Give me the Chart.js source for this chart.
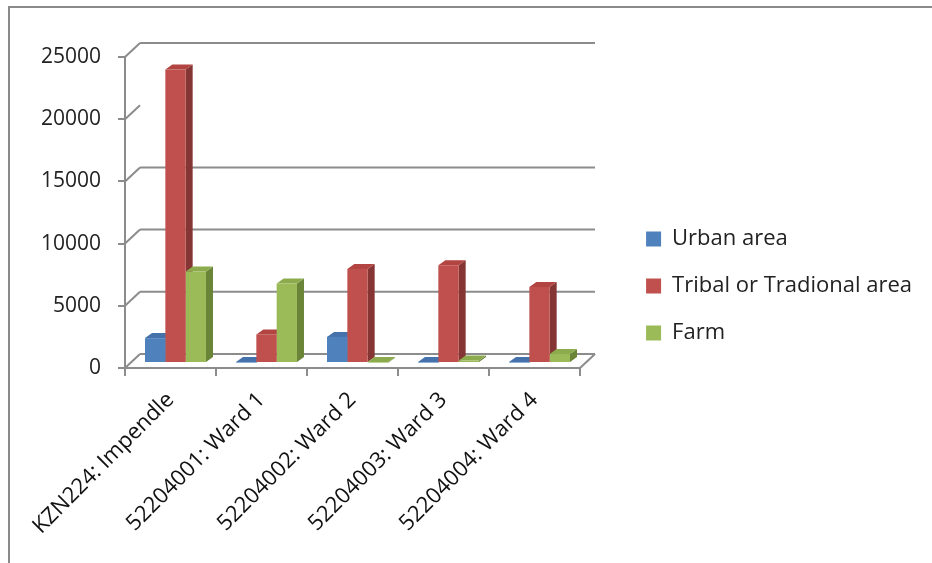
<!DOCTYPE html>
<html>
<head>
<meta charset="utf-8">
<title>Area type by ward</title>
<script src="https://cdn.jsdelivr.net/npm/chart.js@4.4.1/dist/chart.umd.min.js"></script>
<style>
  html, body { margin: 0; padding: 0; background: #fff; }
  canvas { display: block; }
</style>
</head>
<body>
<canvas id="chart" width="932" height="563"></canvas>
<script>
const wards = ["KZN224: Impendle", "52204001: Ward 1", "52204002: Ward 2", "52204003: Ward 3", "52204004: Ward 4"];
const urbanArea = [2000, 30, 2100, 30, 30];
const tribalArea = [23600, 2300, 7550, 7850, 6100];
const farmArea = [7350, 6400, 30, 200, 720];
const yTicks = [0, 5000, 10000, 15000, 20000, 25000];

const seriesNames = ["Urban area", "Tribal or Tradional area", "Farm"];
const frontColors = ["#4f81bd", "#c0504d", "#9bbb59"];
const topColors = ["#4572ab", "#b24441", "#8cab4c"];
const sideColors = ["#345781", "#853533", "#6a8438"];

const lineGray = "#8c8c8c";
const fontFamily = "'Open Sans', sans-serif";
const PAD = { top: 9, left: 10, right: 10, bottom: 0 };
const AXIS_LEFT = 125, AXIS_TOP = 57, AXIS_BOTTOM = 368, AXIS_RIGHT = 580;

const wall = { x: 15, y: -14 };     // back wall sits behind the axes
const barFront = { x: 5, y: -5 };   // bar fronts a little behind the axes
const barDepth = { x: 7, y: -5 };

function line(ctx, x1, y1, x2, y2) {
  ctx.beginPath();
  ctx.moveTo(x1, y1);
  ctx.lineTo(x2, y2);
  ctx.stroke();
}

function poly(ctx, pts, color) {
  ctx.beginPath();
  ctx.moveTo(pts[0][0], pts[0][1]);
  for (let i = 1; i < pts.length; i++) ctx.lineTo(pts[i][0], pts[i][1]);
  ctx.closePath();
  ctx.fillStyle = color;
  ctx.fill();
}

// white background and the frame around the chart
const framePlugin = {
  id: 'frame',
  beforeDraw(chart) {
    const ctx = chart.ctx;
    ctx.save();
    ctx.fillStyle = '#fff';
    ctx.fillRect(0, 0, chart.width, chart.height);
    ctx.strokeStyle = '#8a8a8a';
    ctx.lineWidth = 2;
    line(ctx, 9, 7, chart.width, 7);
    line(ctx, 9, 6, 9, chart.height);
    ctx.restore();
  }
};

// back wall gridlines, the slanted links to the front axis and the floor
const wallPlugin = {
  id: 'wall',
  beforeDatasetsDraw(chart) {
    const ctx = chart.ctx;
    const area = chart.chartArea;
    const y = chart.scales.y;
    ctx.save();
    ctx.strokeStyle = lineGray;
    ctx.lineWidth = 2;
    yTicks.forEach(v => {
      const py = y.getPixelForValue(v);
      line(ctx, area.left, py, area.left + wall.x, py + wall.y);
      // the 20000 line does not show on the wall
      if (v !== 20000) line(ctx, area.left + wall.x, py + wall.y, area.right + wall.x, py + wall.y);
    });
    line(ctx, area.right, area.bottom, area.right + wall.x, area.bottom + wall.y);
    ctx.restore();
  }
};

// tops and right-hand sides of the bars; the fronts are the normal bar elements
const bars3dPlugin = {
  id: 'bars3d',
  beforeDatasetsDraw(chart) {
    const ctx = chart.ctx;
    ctx.save();
    ctx.translate(barFront.x, barFront.y);
    chart.data.datasets.forEach((ds, i) => {
      const meta = chart.getDatasetMeta(i);
      meta.data.forEach(bar => {
        const l = bar.x - bar.width / 2;
        const r = bar.x + bar.width / 2;
        const t = Math.min(bar.y, bar.base);
        const b = Math.max(bar.y, bar.base);
        poly(ctx, [[r, t], [r + barDepth.x, t + barDepth.y], [r + barDepth.x, b + barDepth.y], [r, b]], sideColors[i]);
        poly(ctx, [[l, t], [l + barDepth.x, t + barDepth.y], [r + barDepth.x, t + barDepth.y], [r, t]], topColors[i]);
      });
    });
  },
  afterDatasetsDraw(chart) {
    chart.ctx.restore();
  }
};

const seriesData = [urbanArea, tribalArea, farmArea];

// spacer axes carry no ticks, they only reserve room
const spacer = {
  grid: { display: false },
  border: { display: false },
  ticks: { display: false }
};

new Chart(document.getElementById('chart'), {
  type: 'bar',
  data: {
    labels: wards,
    datasets: seriesData.map((values, i) => ({
      label: seriesNames[i],
      data: values,
      backgroundColor: frontColors[i],
      borderWidth: 0,
      categoryPercentage: 0.67,
      barPercentage: 1,
      clip: false
    }))
  },
  options: {
    responsive: false,
    maintainAspectRatio: false,
    devicePixelRatio: 1,
    animation: false,
    layout: { padding: PAD },
    plugins: {
      tooltip: { enabled: false },
      legend: {
        position: 'right',
        align: 'center',
        maxWidth: 400,
        labels: {
          boxWidth: 15,
          boxHeight: 15,
          padding: 25,
          color: '#222',
          font: { family: fontFamily, size: 22 }
        }
      }
    },
    scales: {
      x: {
        afterFit(s) { s.height = s.chart.height - PAD.bottom - AXIS_BOTTOM; },
        border: { display: true, color: lineGray, width: 2 },
        grid: { offset: true, drawOnChartArea: false, tickLength: 8, color: lineGray, lineWidth: 2 },
        ticks: {
          minRotation: 45,
          maxRotation: 45,
          padding: 11,
          color: '#111',
          font: { family: fontFamily, size: 22 }
        }
      },
      y: {
        min: 0,
        max: 25000,
        afterBuildTicks(s) { s.ticks = yTicks.map(v => ({ value: v })); },
        afterFit(s) { s.width = AXIS_LEFT - PAD.left; },
        border: { display: true, color: lineGray, width: 2 },
        grid: { drawOnChartArea: false, tickLength: 7, color: lineGray, lineWidth: 2 },
        ticks: {
          padding: 17,
          color: '#222',
          font: { family: fontFamily, size: 21 },
          callback: v => String(v)
        }
      },
      gapTop: {
        ...spacer,
        type: 'category',
        position: 'top',
        afterFit(s) { s.height = AXIS_TOP - PAD.top; }
      },
      gapRight: {
        ...spacer,
        type: 'linear',
        position: 'right',
        afterFit(s) { s.width = s.chart.width - PAD.right - s.chart.legend.width - AXIS_RIGHT; }
      }
    }
  },
  plugins: [framePlugin, wallPlugin, bars3dPlugin]
});
</script>
</body>
</html>
